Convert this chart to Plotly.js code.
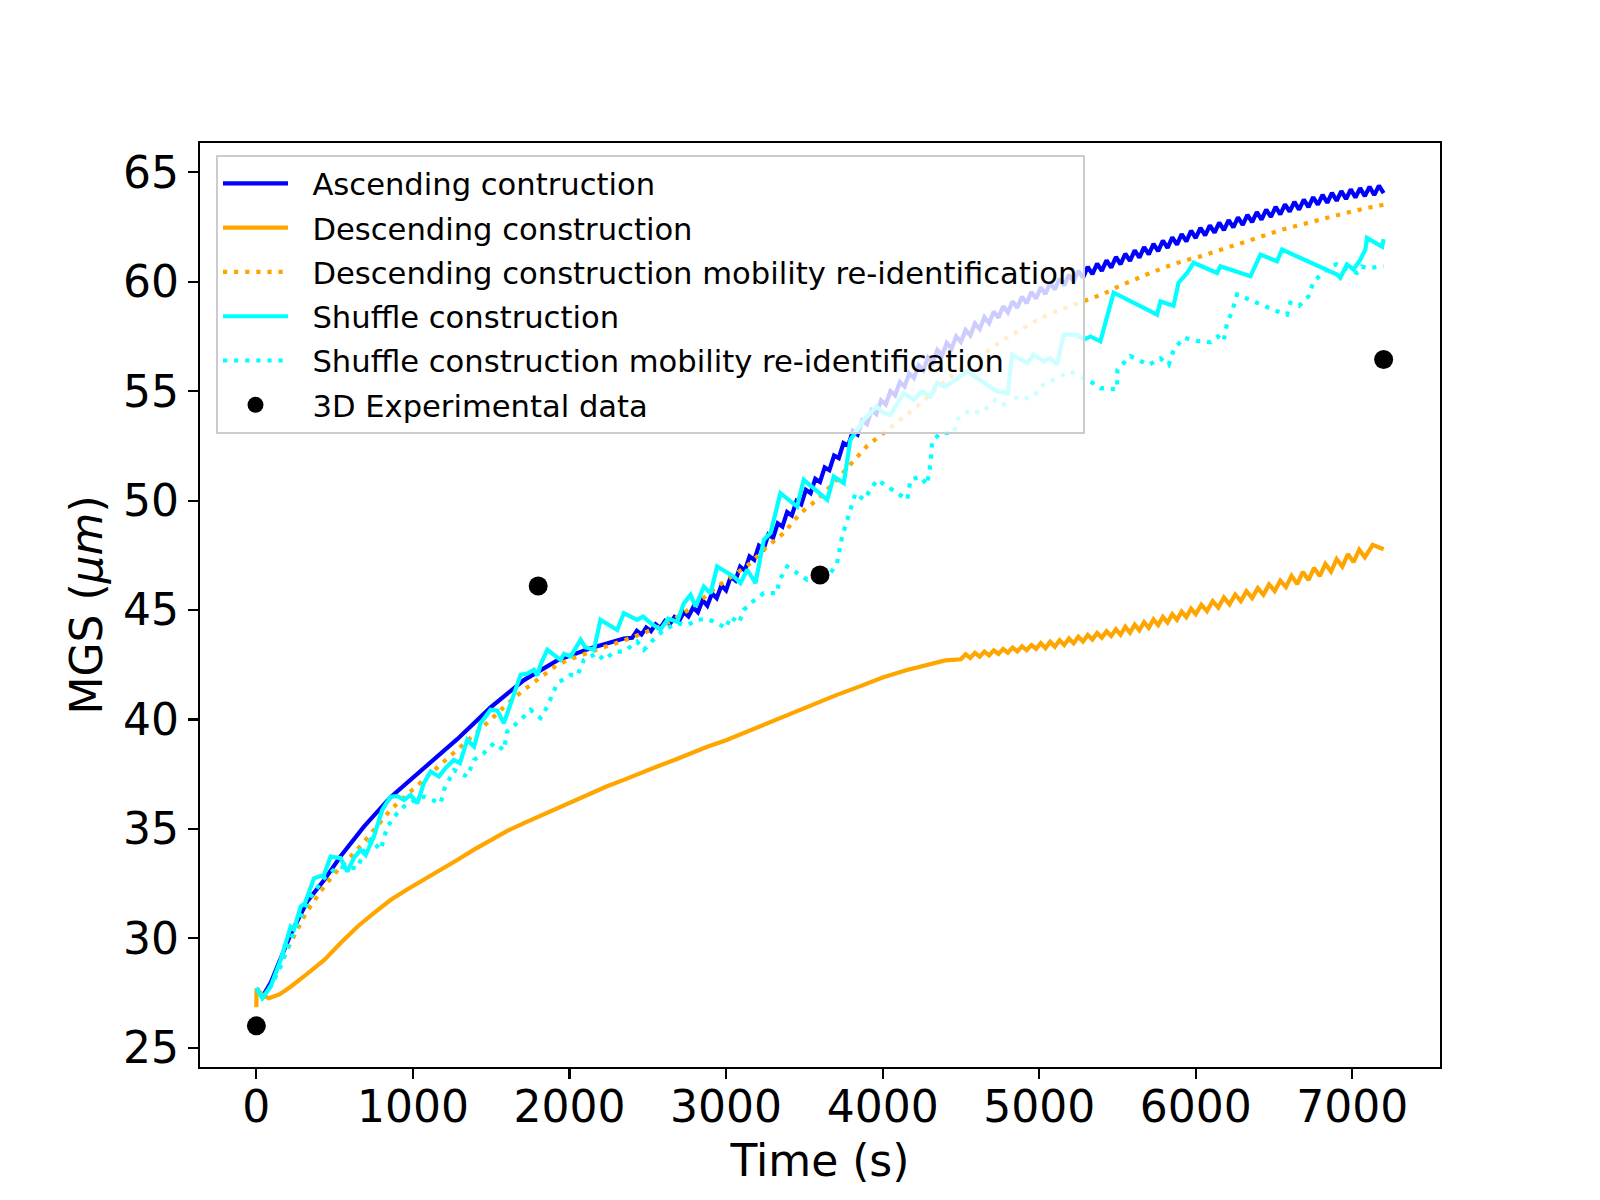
<!DOCTYPE html>
<html>
<head>
<meta charset="utf-8">
<script src="https://cdn.plot.ly/plotly-3.0.1.min.js"></script>
<style>html,body{margin:0;padding:0;background:#fff;}#chart{width:1600px;height:1200px;}</style>
</head>
<body>
<div id="chart"></div>
<script>
// Ascending contruction
const blueT = [0, 40, 90, 150, 220, 326, 432, 538, 687, 857, 1070, 1283, 1496, 1709, 1922, 2134, 2347,
2400,2430,2460,2490,2520,2550,2580,2610,2640,2670,2700,2730,2760,2790,2820,2850,2880,2910,2940,2970,
3000,3030,3060,3090,3120,3150,3180,3210,3240,3270,3300,3330,3360,3390,3420,3450,3480,3510,3540,3570,
3600,3630,3660,3690,3720,3750,3780,3810,3840,3870,3900,3930,3960,3990,4020,4050,4080,4110,4140,4170,
4200,4230,4260,4290,4320,4350,4380,4410,4440,4470,4500,4530,4560,4590,4620,4650,4680,4710,4740,4770,
4800,4830,4860,4890,4920,4950,4980,5010,5040,5070,5100,5130,5160,5190,5220,5250,5280,5310,5340,5370,
5400,5430,5460,5490,5520,5550,5580,5610,5640,5670,5700,5730,5760,5790,5820,5850,5880,5910,5940,5970,
6000,6030,6060,6090,6120,6150,6180,6210,6240,6270,6300,6330,6360,6390,6420,6450,6480,6510,6540,6570,
6600,6630,6660,6690,6720,6750,6780,6810,6840,6870,6900,6930,6960,6990,7020,7050,7080,7110,7140,7170,7200];
const blueV = [27.72, 27.35, 27.95, 29.0, 30.2, 31.7, 32.65, 33.75, 35.1, 36.45, 37.75, 39.1, 40.55, 41.8, 42.7, 43.25, 43.7,
43.73, 44.05, 43.88, 44.2, 44.03, 44.35, 44.18, 44.5, 44.35, 44.68, 44.5, 44.9, 44.71, 45.12, 44.9, 45.45, 45.2, 45.76, 45.54, 46.12,
45.9, 46.53, 46.35, 46.98, 46.81, 47.45, 47.29, 47.94, 47.79, 48.45, 48.3, 48.96, 48.81, 49.47, 49.32, 49.98, 49.83, 50.49, 50.34, 51.0,
50.85, 51.52, 51.39, 52.06, 51.94, 52.63, 52.51, 53.18, 53.02, 53.66, 53.5, 54.13, 53.95, 54.58, 54.39, 55.0, 54.81, 55.42, 55.21, 55.81,
55.6, 56.18, 55.96, 56.54, 56.31, 56.88, 56.64, 57.2, 56.95, 57.5, 57.25, 57.8, 57.55, 58.1, 57.84, 58.38, 58.11, 58.64, 58.36, 58.88,
58.6, 59.1, 58.81, 59.32, 59.02, 59.53, 59.23, 59.74, 59.44, 59.95, 59.65, 60.14, 59.83, 60.32, 60.01, 60.5, 60.19, 60.68, 60.35, 60.83,
60.5, 60.98, 60.65, 61.13, 60.8, 61.28, 60.95, 61.43, 61.1, 61.58, 61.25, 61.73, 61.4, 61.88, 61.55, 62.03, 61.7, 62.18, 61.85, 62.33,
62.0, 62.46, 62.12, 62.58, 62.24, 62.7, 62.36, 62.82, 62.48, 62.94, 62.6, 63.06, 62.72, 63.18, 62.84, 63.3, 62.96, 63.42, 63.08, 63.54,
63.2, 63.65, 63.3, 63.75, 63.41, 63.86, 63.52, 63.97, 63.61, 64.06, 63.7, 64.14, 63.78, 64.22, 63.85, 64.28, 63.91, 64.34, 63.96, 64.39, 64.05];

// Descending construction
const orangeT = [0, 1, 40, 81, 150, 219, 320, 432, 540, 645, 750, 857, 960, 1070, 1180, 1283, 1390, 1496, 1600, 1709,
1815, 1922, 2030, 2134, 2240, 2347, 2450, 2560, 2670, 2773, 2880, 3000, 3150, 3300, 3450, 3578, 3700, 3850, 4000, 4150, 4300, 4400,
4500,4530,4560,4590,4620,4650,4680,4710,4740,4770,4800,4830,4860,4890,4920,4950,4980,5010,5040,5070,
5100,5130,5160,5190,5220,5250,5280,5310,5340,5370,5400,5430,5460,5490,5520,5550,5580,5610,5640,5670,
5700,5730,5760,5790,5820,5850,5880,5910,5940,5970,6000,
6036,6072,6108,6144,6180,6216,6252,6288,6324,6360,6396,6432,6468,6504,6540,6576,6612,6648,6684,6720,
6756,6792,6828,6864,6900,6936,6972,7008,7044,7080,7130,7200];
const orangeV = [26.85, 27.7, 27.4, 27.26, 27.45, 27.79, 28.35, 29.0, 29.8, 30.53, 31.15, 31.75, 32.22, 32.67, 33.13, 33.58, 34.05, 34.5, 34.9, 35.26,
35.6, 35.94, 36.3, 36.63, 36.95, 37.24, 37.55, 37.85, 38.15, 38.45, 38.75, 39.05, 39.5, 39.95, 40.4, 40.76, 41.1, 41.5, 41.92, 42.25, 42.5, 42.7,
42.75, 42.98, 42.81, 43.04, 42.87, 43.1, 42.93, 43.16, 42.99, 43.22, 43.05, 43.28, 43.11, 43.34, 43.17, 43.4, 43.23, 43.49, 43.26, 43.55,
43.32, 43.62, 43.4, 43.7, 43.48, 43.78, 43.56, 43.86, 43.65, 43.95, 43.73, 44.03, 43.81, 44.12, 43.87, 44.24, 43.96, 44.33, 44.07, 44.45,
44.19, 44.57, 44.31, 44.69, 44.43, 44.81, 44.55, 44.93, 44.68, 45.06, 44.81,
45.24, 44.95, 45.41, 45.11, 45.57, 45.26, 45.71, 45.41, 45.86, 45.55, 46.0, 45.7, 46.17, 45.87, 46.34, 46.05, 46.56, 46.19, 46.74, 46.37,
46.92, 46.55, 47.11, 46.76, 47.33, 46.98, 47.55, 47.19, 47.76, 47.41, 47.98, 47.78];

// Descending construction mobility re-identification
const odT = [0, 40, 90, 150, 219, 320, 432, 540, 644, 750, 857, 960, 1070, 1180, 1283, 1390, 1496, 1600, 1709, 1815,
1922, 2030, 2134, 2240, 2347, 2450, 2560, 2650, 2730, 2830, 2943, 3050, 3156, 3263, 3369, 3475, 3582, 3688, 3794, 3901,
4007, 4114, 4220, 4348, 4450, 4561, 4670, 4773, 4880, 4986, 5090, 5199, 5305, 5412, 5510, 5604, 5710, 5817, 5920, 6030,
6136, 6242, 6350, 6455, 6560, 6668, 6775, 6881, 6990, 7094, 7200];
const odV = [27.72, 27.3, 27.8, 28.7, 29.8, 31.2, 32.36, 33.3, 34.04, 34.95, 35.87, 36.55, 37.24, 37.92, 38.6, 39.3, 39.98, 40.7, 41.35, 41.95,
42.5, 42.82, 43.1, 43.35, 43.6, 43.88, 44.2, 44.5, 44.86, 45.4, 46.07, 46.6, 47.14, 47.9, 48.52, 49.43, 50.04, 50.8, 51.64, 52.5,
53.1, 53.7, 54.3, 55.15, 55.75, 56.3, 56.85, 57.35, 57.8, 58.25, 58.6, 58.9, 59.15, 59.45, 59.8, 60.1, 60.4, 60.7, 60.95, 61.16,
61.4, 61.62, 61.9, 62.15, 62.4, 62.61, 62.8, 62.99, 63.2, 63.37, 63.52];

// Shuffle construction
const csT = [0, 38, 91, 155, 219, 240, 283, 310, 368, 432, 474, 538, 581, 625, 666, 698, 751, 804, 857, 900,
943, 985, 1028, 1070, 1113, 1166, 1210, 1262, 1300, 1347, 1390, 1432, 1496, 1540, 1581, 1624, 1666, 1688, 1730, 1773,
1795, 1815, 1858, 1943, 1965, 2007, 2071, 2100, 2156, 2198, 2305, 2347, 2432, 2470, 2518, 2581, 2630, 2688, 2730, 2773,
2805, 2858, 2901, 2943, 3049, 3092, 3135, 3188, 3241, 3284, 3347, 3454, 3496, 3646, 3688, 3752, 3794, 3880, 3922, 3960,
4007, 4050, 4135, 4200, 4250, 4306, 4348, 4400, 4540, 4731, 4800, 4827, 4923, 4965, 5029, 5070, 5114, 5157, 5242, 5284,
5327, 5391, 5434, 5476, 5753, 5774, 5858, 5890, 5945, 5986, 6136, 6157, 6200, 6349, 6413, 6519, 6551, 6902, 6923, 6966,
7007, 7050, 7083, 7094, 7190, 7200];
const csV = [27.72, 27.27, 27.8, 29.01, 30.53, 30.4, 31.45, 31.6, 32.74, 32.9, 33.73, 33.66, 33.05, 33.7, 34.04, 33.8, 34.65, 35.87, 36.47, 36.5,
36.32, 36.55, 36.17, 37.09, 37.62, 37.39, 37.8, 38.15, 38.0, 39.07, 38.76, 39.83, 40.44, 40.4, 39.83, 40.74, 41.5, 42.04, 42.1, 42.27,
42.0, 42.5, 43.18, 42.72, 43.0, 42.88, 43.64, 43.3, 43.18, 44.55, 44.09, 44.86, 44.55, 44.7, 44.4, 44.1, 44.6, 44.47, 45.3, 45.69,
45.16, 46.07, 45.77, 46.99, 46.53, 46.23, 46.84, 46.23, 48.21, 48.52, 50.34, 49.73, 50.95, 50.04, 51.1, 50.8, 52.78, 53.69, 54.0, 54.3,
54.0, 53.92, 54.91, 54.6, 55.0, 54.76, 55.37, 55.2, 55.9, 54.99, 54.92, 56.67, 56.29, 56.67, 56.36, 56.5, 56.21, 57.58, 57.58, 57.35,
57.5, 57.28, 58.42, 59.5, 58.5, 59.1, 58.9, 59.96, 60.4, 60.87, 60.4, 60.7, 60.6, 60.25, 61.24, 60.94, 61.47, 60.33, 60.18, 60.79,
60.56, 61.0, 61.47, 62.0, 61.6, 61.95];

// Shuffle construction mobility re-identification
const cdT = [0, 40, 90, 155, 219, 283, 347, 432, 517, 645, 690, 730, 794, 836, 900, 964, 1070, 1177, 1198, 1262,
1347, 1390, 1453, 1517, 1581, 1602, 1688, 1751, 1815, 1858, 1922, 2007, 2050, 2092, 2177, 2219, 2290, 2347, 2432, 2475,
2530, 2602, 2688, 2750, 2816, 2880, 2943, 3000, 3028, 3081, 3113, 3156, 3241, 3327, 3337, 3390, 3454, 3518, 3582, 3650,
3709, 3741, 3794, 3826, 3880, 3965, 4029, 4093, 4157, 4178, 4240, 4284, 4306, 4316, 4369, 4454, 4476, 4497, 4561, 4625,
4721, 4773, 4795, 4880, 4965, 5008, 5136, 5199, 5263, 5327, 5391, 5455, 5497, 5500, 5582, 5640, 5699, 5774, 5827, 5859,
5923, 6008, 6095, 6140, 6178, 6200, 6230, 6264, 6400, 6519, 6583, 6604, 6660, 6721, 6753, 6860, 6900, 6960, 7030, 7060,
7100, 7157, 7200];
const cdV = [27.72, 27.3, 27.8, 28.7, 29.92, 30.99, 31.9, 32.74, 33.27, 33.2, 34.0, 34.5, 34.04, 35.1, 35.72, 36.17, 36.47, 36.17, 36.78, 37.69,
37.39, 38.15, 38.46, 38.92, 38.6, 39.45, 39.98, 40.44, 40.06, 40.59, 41.66, 42.04, 42.0, 42.72, 43.03, 42.72, 43.1, 43.1, 43.56, 43.18,
43.6, 44.09, 44.4, 44.3, 44.55, 44.6, 44.4, 44.17, 44.7, 44.4, 45.0, 45.31, 45.77, 45.77, 46.3, 46.99, 46.69, 46.38, 46.69, 46.5,
47.14, 48.36, 49.58, 50.34, 50.04, 50.95, 50.65, 50.34, 50.04, 50.95, 51.1, 50.72, 51.71, 52.7, 53.09, 53.09, 53.69, 53.85, 54.15, 54.0,
54.6, 54.38, 54.92, 54.6, 54.76, 55.22, 55.67, 55.9, 55.67, 55.45, 55.14, 55.1, 55.08, 55.99, 56.6, 56.4, 56.2, 56.5, 56.2, 56.9,
57.44, 57.3, 57.24, 57.5, 57.28, 58.12, 58.6, 59.42, 59.0, 58.65, 58.5, 59.04, 58.9, 59.34, 60.02, 60.7, 60.8, 60.6, 60.4, 60.7,
60.6, 60.68, 60.7];

// 3D Experimental data
const expT = [0, 1800, 3600, 7200];
const expV = [26.0, 46.1, 46.6, 56.45];

const seriesNames = ['Ascending contruction', 'Descending construction', 'Descending construction mobility re-identification',
  'Shuffle construction', 'Shuffle construction mobility re-identification', '3D Experimental data'];
const xTicks = [0, 1000, 2000, 3000, 4000, 5000, 6000, 7000];
const yTicks = [25, 30, 35, 40, 45, 50, 55, 60, 65];

const FONT = 'DejaVu Sans, Liberation Sans, sans-serif';
const LW = 4.2;
const DOT = '4.2px,6.9px';
const PAD = '\u00A0\u00A0'; // spacing between legend sample and label

const traces = [
  {x: blueT, y: blueV, name: PAD + seriesNames[0], legendgroup: 'a', mode: 'lines', line: {color: '#0000ff', width: LW}},
  {x: orangeT, y: orangeV, name: PAD + seriesNames[1], legendgroup: 'b', mode: 'lines', line: {color: '#ffa500', width: LW}},
  {x: odT, y: odV, name: PAD + seriesNames[2], legendgroup: 'c', mode: 'lines', line: {color: '#ffa500', width: LW, dash: DOT}},
  {x: csT, y: csV, name: PAD + seriesNames[3], legendgroup: 'd', mode: 'lines', line: {color: '#00ffff', width: LW}},
  {x: cdT, y: cdV, name: PAD + seriesNames[4], legendgroup: 'e', mode: 'lines', line: {color: '#00ffff', width: LW, dash: DOT}},
  {x: expT, y: expV, name: PAD + seriesNames[5], legendgroup: 'f', mode: 'markers', marker: {color: '#000000', size: 19, line: {width: 0}}}
];

const axisCommon = {
  showgrid: false, zeroline: false, showline: true, mirror: true,
  linecolor: '#000', linewidth: 2.2, ticks: 'outside', ticklen: 10, tickwidth: 2.2, tickcolor: '#000',
  tickfont: {family: FONT, size: 44, color: '#000'}
};

const layout = {
  width: 1600, height: 1200,
  margin: {l: 200, r: 160, t: 143, b: 133, pad: 0},
  paper_bgcolor: '#fff', plot_bgcolor: '#fff',
  font: {family: FONT, color: '#000'},
  showlegend: true,
  xaxis: Object.assign({}, axisCommon, {
    range: [-360, 7560], tickmode: 'array', tickvals: xTicks, ticktext: xTicks.map(String),
    ticklabelstandoff: -10,
    title: {text: 'Time (s)', font: {family: FONT, size: 44, color: '#000'}, standoff: 14}
  }),
  yaxis: Object.assign({}, axisCommon, {
    range: [24.12, 66.34], tickmode: 'array', tickvals: yTicks, ticktext: yTicks.map(String),
    title: {text: 'MGS (<i>μm</i>)', font: {family: FONT, size: 44, color: '#000'}, standoff: 7}
  }),
  legend: {
    x: 0.0129, y: 0.987, xanchor: 'left', yanchor: 'top',
    bgcolor: 'rgba(255,255,255,0.8)', bordercolor: '#cccccc', borderwidth: 2,
    font: {family: FONT, size: 30.6, color: '#000'}, itemwidth: 65, traceorder: 'grouped',
    tracegroupgap: 1.5
  }
};

Plotly.newPlot('chart', traces, layout, {displayModeBar: false, staticPlot: true});
</script>
</body>
</html>
